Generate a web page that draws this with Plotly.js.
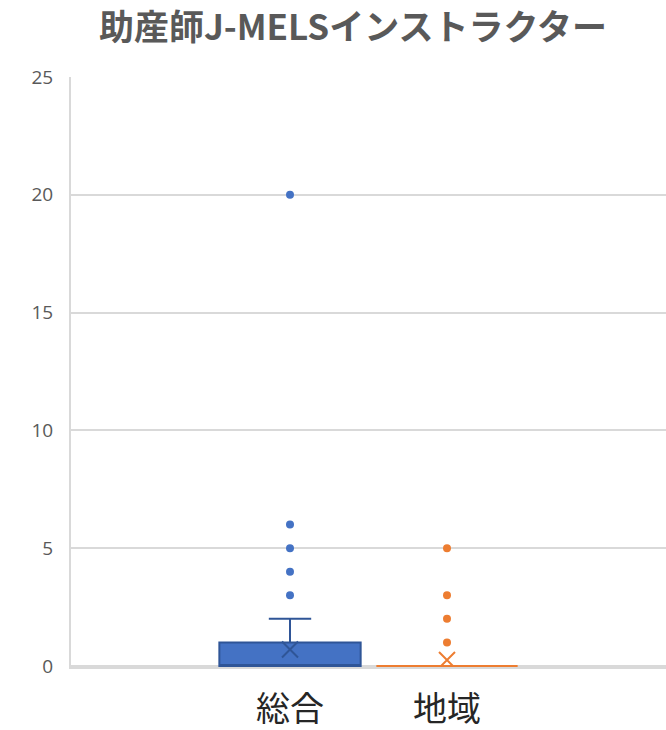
<!DOCTYPE html>
<html><head><meta charset="utf-8">
<script src="https://cdn.plot.ly/plotly-3.0.1.min.js"></script>
<style>html,body{margin:0;padding:0;background:#fff;}#chart{width:666px;height:730px;}</style>
</head><body><div id="chart"></div>
<script>
const categories = ["総合", "地域"];
const q1 = [0, 0];
const median = [0, 0];
const q3 = [1, 0];
const lowerFence = [0, 0];
const upperFence = [2, 0];
const means = [0.7, 0.25];
const outliersSogo = [3, 4, 5, 6, 20];
const outliersChiiki = [1, 2, 3, 5];
const yTicks = [0, 5, 10, 15, 20, 25];

const fills = ["#4472C4", "#ED7D31"];
const lines = ["#2F5597", "#ED7D31"];
const outliers = [outliersSogo, outliersChiiki];

const traces = [];
categories.forEach((c, i) => {
  traces.push({
    type: "box", x: [i], q1: [q1[i]], median: [median[i]], q3: [q3[i]],
    lowerfence: [lowerFence[i]], upperfence: [upperFence[i]],
    width: 0.9, whiskerwidth: 0.3, fillcolor: fills[i],
    line: {color: lines[i], width: 2}, boxpoints: false, hoverinfo: "skip"
  });
  traces.push({
    type: "scatter", mode: "markers", x: outliers[i].map(() => i), y: outliers[i],
    marker: {color: fills[i], size: 8}, hoverinfo: "skip"
  });
  traces.push({
    type: "scatter", mode: "markers", x: [i], y: [means[i]],
    marker: {symbol: "x-thin-open", size: 16, color: lines[i], line: {color: lines[i], width: 2}}, hoverinfo: "skip"
  });
});

const layout = {
  width: 666, height: 730, showlegend: false,
  paper_bgcolor: "#fff", plot_bgcolor: "#fff",
  margin: {l: 71, r: 0, t: 77, b: 63},
  title: {text: "<b>助産師J-MELSインストラクター</b>", x: 0.53, xanchor: "center", y: 0.962, yanchor: "middle",
    font: {family: "Noto Sans CJK JP", size: 35, color: "#595959"}},
  xaxis: {range: [-1.395, 2.395], tickvals: [0, 1], ticktext: categories, showgrid: false, zeroline: false,
    showline: true, linecolor: "#d9d9d9", linewidth: 2, ticks: "", ticklabelstandoff: 11, layer: "below traces",
    tickfont: {family: "Noto Sans CJK JP", size: 34, color: "#262626"}, fixedrange: true},
  yaxis: {range: [-0.045, 25], tickvals: yTicks, ticktext: yTicks.map(String), showgrid: true, gridcolor: "#d9d9d9", gridwidth: 2,
    zeroline: false, showline: true, linecolor: "#d9d9d9", linewidth: 2, ticks: "", ticklabelstandoff: 12, layer: "below traces",
    tickfont: {family: "Open Sans", size: 19, color: "#595959"}, fixedrange: true}
};
Plotly.newPlot("chart", traces, layout, {staticPlot: true});
</script></body></html>
